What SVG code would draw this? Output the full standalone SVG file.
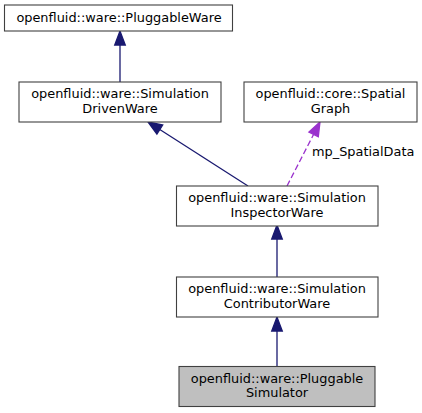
<svg xmlns="http://www.w3.org/2000/svg" width="422" height="413" viewBox="0 0 422 413">
<style>
.box{fill:#ffffff;stroke:#404040;stroke-width:1.1}
.cur{fill:#bfbfbf;stroke:#404040;stroke-width:1.1}
text{font-family:"DejaVu Sans","Liberation Sans",sans-serif;font-size:12.9px;fill:#000000}
.c{text-anchor:middle}
.inh{stroke:#191970;stroke-width:1.3;fill:none}
.inhh{fill:#191970;stroke:#191970;stroke-width:1.3}
.use{stroke:#9a32cd;stroke-width:1.3;fill:none;stroke-dasharray:6,3}
.useh{fill:#9a32cd;stroke:#9a32cd;stroke-width:1.3}
</style>
<rect width="422" height="413" fill="#ffffff"/>
<g id="edges">
<line class="inh" x1="120" y1="82" x2="120" y2="45"/>
<polygon class="inhh" points="120,31 114.7,45 125.3,45"/>
<line class="inh" x1="248" y1="186" x2="159.8" y2="129.5"/>
<polygon class="inhh" points="148,122 162.7,125 156.9,134"/>
<line class="use" x1="287" y1="186" x2="313.6" y2="134.4"/>
<polygon class="useh" points="320,122 318.3,136.8 308.9,132"/>
<text x="312" y="156">mp_SpatialData</text>
<line class="inh" x1="277" y1="277" x2="277" y2="239"/>
<polygon class="inhh" points="277,225 271.7,239 282.3,239"/>
<line class="inh" x1="277" y1="367" x2="277" y2="331"/>
<polygon class="inhh" points="277,317 271.7,331 282.3,331"/>
</g>
<g id="node-pluggableware">
<rect class="box" x="4.5" y="5" width="228" height="26"/>
<text class="c" x="119" y="22">openfluid::ware::PluggableWare</text>
</g>
<g id="node-simulationdrivenware">
<rect class="box" x="19" y="82" width="202" height="40"/>
<text class="c" x="120" y="98">openfluid::ware::Simulation</text>
<text class="c" x="120" y="112.5">DrivenWare</text>
</g>
<g id="node-spatialgraph">
<rect class="box" x="244" y="82" width="173" height="40"/>
<text class="c" x="330.5" y="98">openfluid::core::Spatial</text>
<text class="c" x="330.5" y="112.5">Graph</text>
</g>
<g id="node-simulationinspectorware">
<rect class="box" x="176.5" y="186" width="201.5" height="40"/>
<text class="c" x="277" y="202">openfluid::ware::Simulation</text>
<text class="c" x="277" y="216.5">InspectorWare</text>
</g>
<g id="node-simulationcontributorware">
<rect class="box" x="176.5" y="277" width="201.5" height="40"/>
<text class="c" x="277" y="293">openfluid::ware::Simulation</text>
<text class="c" x="277" y="307.5">ContributorWare</text>
</g>
<g id="node-pluggablesimulator">
<rect class="cur" x="179" y="366.5" width="196" height="40"/>
<text class="c" x="277" y="382.5">openfluid::ware::Pluggable</text>
<text class="c" x="277" y="397">Simulator</text>
</g>
</svg>
